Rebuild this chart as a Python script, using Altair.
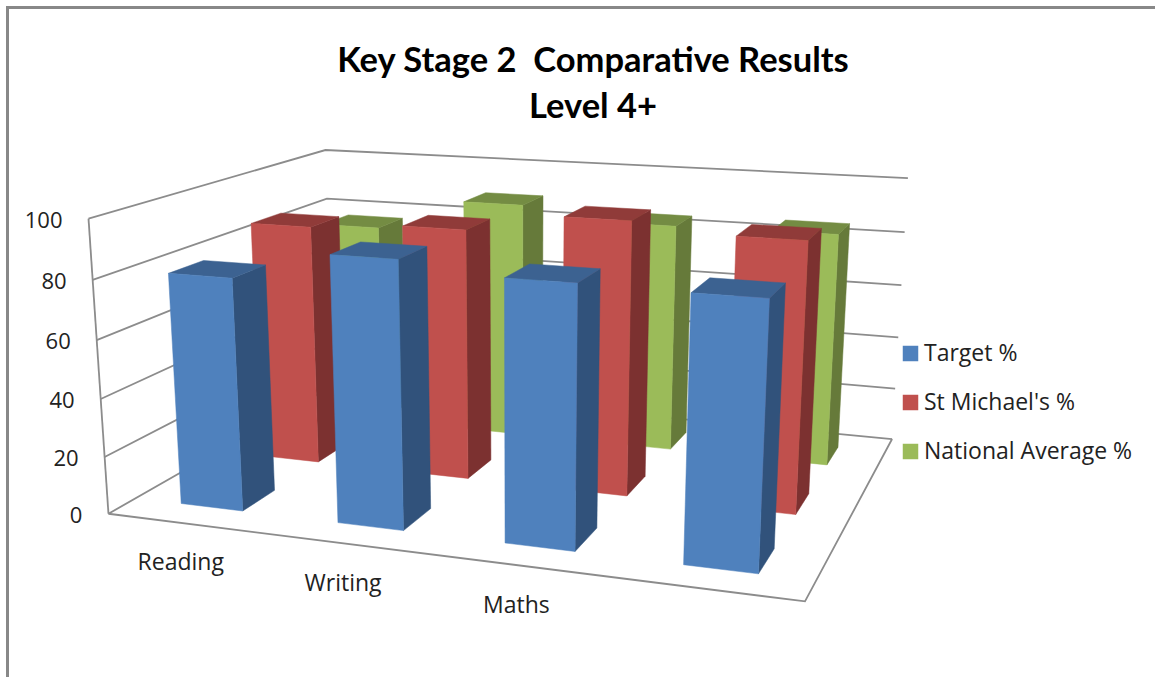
import numpy as np
import pandas as pd
import altair as alt

# Chart values
categories = ["Reading", "Writing", "Maths", ""]
series_names = ["Target %", "St Michael's %", "National Average %"]
target = [80, 90, 86.5, 86]
st_michaels = [87, 89.5, 96, 93]
national = [77, 89, 84.5, 85]
tick_values = [0, 20, 40, 60, 80, 100]
title_lines = ["Key Stage 2\u00a0 Comparative Results", "Level 4+"]

# Face colours per series: front, side, top
front_colors = ["#4F81BD", "#C0504D", "#9BBB59"]
side_colors = ["#31527B", "#7C3130", "#667A3A"]
top_colors = ["#3C6291", "#903B39", "#748C43"]

TITLE_FONT = "Lato"
FONT = "Open Sans"
INK = "#222222"
GRID = "#8C8C8C"

# Camera: where corners of the (category, depth, value) box land on the page
camera_box = [(0, 0, 0), (0, 0, 100), (0, 1, 100), (0, 1, 0), (1, 1, 100), (1, 1, 0), (1, 0, 0)]
camera_page = [(108, 512), (89, 219), (325, 149), (333, 388), (908, 179), (892, 437), (805, 603)]


def solve_camera():
    rows, rhs = [], []
    for (u, v, h), (x, y) in zip(camera_box, camera_page):
        h = h / 100
        rows.append([u, v, h, 1, 0, 0, 0, 0, -x * u, -x * v, -x * h])
        rhs.append(x)
        rows.append([0, 0, 0, 0, u, v, h, 1, -y * u, -y * v, -y * h])
        rhs.append(y)
    p = np.linalg.lstsq(np.array(rows, float), np.array(rhs, float), rcond=None)[0]
    return np.append(p, 1.0).reshape(3, 4)


CAM = solve_camera()


def project(u, v, h):
    px, py, w = CAM @ np.array([u, v, h / 100, 1.0])
    return [float(px / w), float(py / w)]


def polygon(points, face):
    ring = [project(*p) for p in points]
    ring.append(ring[0])
    return {"type": "Feature", "properties": {"face": face},
            "geometry": {"type": "Polygon", "coordinates": [ring]}}


def polyline(points):
    return {"type": "Feature", "properties": {},
            "geometry": {"type": "LineString", "coordinates": [project(*p) for p in points]}}


# Gridlines on both walls plus the floor outline
lines = []
for t in tick_values:
    lines.append(polyline([(0, 0, t), (0, 1, t), (1, 1, t)]))
lines.append(polyline([(0, 0, 0), (0, 0, 100)]))
lines.append(polyline([(0, 0, 0), (1, 0, 0), (1, 1, 0)]))

# Bars, from the back row to the front row
n_cat, n_ser = len(categories), len(series_names)
BAR_W = 0.40
BAR_D = 0.40
faces = []
values = [target, st_michaels, national]
for s in reversed(range(n_ser)):
    v0 = (s + 0.5 - BAR_D / 2) / n_ser
    v1 = (s + 0.5 + BAR_D / 2) / n_ser
    for c in range(n_cat):
        u0 = (c + 0.5 - BAR_W / 2) / n_cat
        u1 = (c + 0.5 + BAR_W / 2) / n_cat
        h = values[s][c]
        name = series_names[s]
        faces.append(polygon([(u1, v0, 0), (u1, v1, 0), (u1, v1, h), (u1, v0, h)], name + " side"))
        faces.append(polygon([(u0, v0, h), (u1, v0, h), (u1, v1, h), (u0, v1, h)], name + " top"))
        faces.append(polygon([(u0, v0, 0), (u1, v0, 0), (u1, v0, h), (u0, v0, h)], name))

face_domain = series_names + [n + " side" for n in series_names] + [n + " top" for n in series_names]
face_range = front_colors + side_colors + top_colors
face_scale = alt.Scale(domain=face_domain, range=face_range)

identity = dict(type="identity", scale=1, translate=[0, 0])

grid_layer = alt.Chart(alt.Data(values=lines)).mark_geoshape(
    filled=False, stroke=GRID, strokeWidth=1.8
).project(**identity)

bar_layer = alt.Chart(alt.Data(values=faces)).mark_geoshape(strokeWidth=0.5).encode(
    color=alt.Color(
        "properties.face:N",
        scale=face_scale,
        legend=alt.Legend(
            orient="none", legendX=899, legendY=342, values=series_names, title=None,
            symbolType="square", symbolSize=240, symbolStrokeWidth=0,
            labelFont=FONT, labelFontSize=23, labelColor=INK, labelLimit=320,
            labelOffset=2, rowPadding=25,
        ),
    ),
    stroke=alt.Stroke("properties.face:N", scale=face_scale, legend=None),
).project(**identity)

# Outer frame: top and left edges only
frame = alt.Chart(pd.DataFrame({"x": [7.5, 7.5, 1155], "y": [677, 7.5, 7.5]})).mark_line(
    color="#888888", strokeWidth=3, strokeJoin="miter"
).encode(
    x=alt.X("x:Q", scale=None),
    y=alt.Y("y:Q", scale=None),
    order=alt.Order("x:Q"),
)

tick_df = pd.DataFrame({"label": [str(t) for t in tick_values],
                        "x": [project(0, 0, t)[0] - 26 for t in tick_values],
                        "y": [project(0, 0, t)[1] + 2 for t in tick_values]})
tick_layer = alt.Chart(tick_df).mark_text(
    font=FONT, fontSize=22, align="right", baseline="middle", color=INK
).encode(x=alt.X("x:Q", scale=None), y=alt.Y("y:Q", scale=None), text="label:N")

cat_df = pd.DataFrame({"label": categories,
                       "x": [project((i + 0.5) / n_cat, 0, 0)[0] - 5 for i in range(n_cat)],
                       "y": [project((i + 0.5) / n_cat, 0, 0)[1] + 40 for i in range(n_cat)]})
cat_layer = alt.Chart(cat_df).mark_text(
    font=FONT, fontSize=23, align="center", baseline="middle", color=INK
).encode(x=alt.X("x:Q", scale=None), y=alt.Y("y:Q", scale=None), text="label:N")

title_df = pd.DataFrame({"label": title_lines, "x": [593, 593], "y": [61.5, 107.5]})
title_layer = alt.Chart(title_df).mark_text(
    font=TITLE_FONT, fontSize=34.5, fontWeight="bold", align="center", baseline="middle", color="#000000"
).encode(x=alt.X("x:Q", scale=None), y=alt.Y("y:Q", scale=None), text="label:N")

chart = alt.layer(
    frame, grid_layer, bar_layer, tick_layer, cat_layer, title_layer
).properties(
    width=1155, height=677, padding=0, autosize=alt.AutoSizeParams(type="none"), background="white"
).configure_view(stroke=None)

chart.save("out.html", embed_options={"renderer": "svg", "actions": False})
